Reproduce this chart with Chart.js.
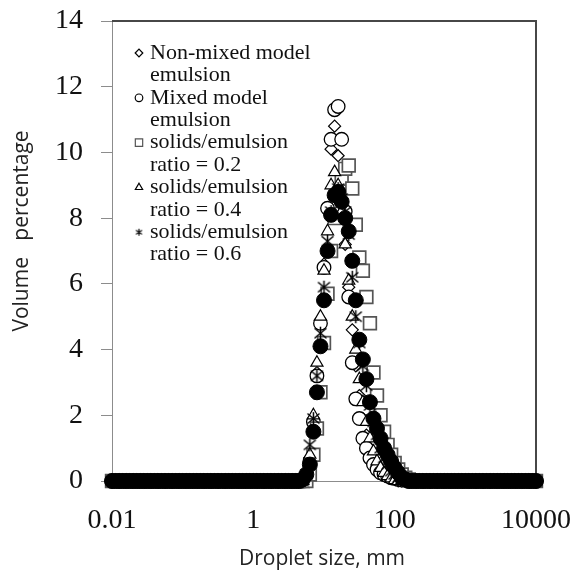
<!DOCTYPE html>
<html>
<head>
<meta charset="utf-8">
<script src="https://cdn.jsdelivr.net/npm/chart.js@4.4.1/dist/chart.umd.min.js"></script>
<style>
  html, body { margin: 0; padding: 0; background: #fff; }
</style>
</head>
<body>
<canvas id="chart" width="576" height="575"></canvas>
<script>
// size bins (20 per decade, 0.01 .. 10000)
const decadeStarts = [0.01, 0.1, 1, 10, 100, 1000];
const binSteps = [1, 1.122, 1.259, 1.413, 1.585, 1.778, 1.995, 2.239, 2.512, 2.818,
                  3.162, 3.548, 3.981, 4.467, 5.012, 5.623, 6.310, 7.079, 7.943, 8.913];
const lastBin = 10000;

// volume % from bin 54 (~5.6) up to bin 85 (~178); all other bins read as 0
const firstFilledBin = 54;
const nonMixed = [0, 0.15, 0.7, 1.9, 3.3, 4.9, 6.6, 8.3, 10.1, 10.8, 9.9, 8.6, 7.2, 5.9, 4.6, 3.5,
                  2.6, 1.9, 1.4, 1.0, 0.7, 0.5, 0.35, 0.25, 0.15, 0.1, 0.05, 0, 0, 0, 0, 0];
const mixed    = [0, 0.1, 0.6, 1.8, 3.2, 4.8, 6.5, 8.3, 10.4, 11.3, 11.4, 10.4, 8.2, 5.6, 3.6, 2.5,
                  1.9, 1.3, 1.0, 0.7, 0.5, 0.35, 0.25, 0.2, 0.15, 0.1, 0.08, 0.05, 0.03, 0.02, 0, 0];
const ratio02  = [0, 0, 0.2, 0.8, 1.6, 2.7, 4.2, 5.7, 7.0, 8.0, 8.7, 9.2, 9.5, 9.6, 8.9, 7.8,
                  6.8, 6.4, 5.6, 4.8, 3.3, 2.6, 2.0, 1.5, 1.1, 0.8, 0.55, 0.35, 0.2, 0.1, 0.05, 0];
const ratio04  = [0, 0.2, 0.8, 2.0, 3.6, 5.0, 6.4, 7.6, 9.0, 9.4, 9.0, 8.2, 7.2, 6.1, 5.0, 4.0,
                  3.1, 2.4, 1.8, 1.3, 0.9, 0.6, 0.4, 0.25, 0.15, 0.08, 0.03, 0, 0, 0, 0, 0];
const ratio06  = [0, 0.2, 1.1, 1.9, 3.2, 4.5, 5.9, 7.3, 8.2, 8.7, 8.9, 8.6, 8.2, 7.5, 6.2, 5.0,
                  4.2, 3.5, 2.9, 2.3, 1.8, 1.4, 1.0, 0.7, 0.5, 0.3, 0.2, 0.1, 0.05, 0, 0, 0];
const unlabeled = [0.05, 0.2, 0.5, 1.5, 2.7, 4.1, 5.5, 7.0, 8.1, 8.7, 8.8, 8.5, 8.0, 7.6, 6.7, 5.5,
                  4.3, 3.7, 3.1, 2.4, 1.9, 1.6, 1.3, 1.0, 0.8, 0.6, 0.4, 0.25, 0.1, 0.05, 0, 0];

const legendLines = [
  ['Non-mixed model', 'emulsion'],
  ['Mixed model', 'emulsion'],
  ['solids/emulsion', 'ratio = 0.2'],
  ['solids/emulsion', 'ratio = 0.4'],
  ['solids/emulsion', 'ratio = 0.6']
];
const xTickValues = [0.01, 1, 100, 10000];
const xTitle = 'Droplet size, mm';
const yTitle = 'Volume   percentage';

const sizes = [];
decadeStarts.forEach(d => binSteps.forEach(s => sizes.push(+(d * s).toPrecision(4))));
sizes.push(lastBin);

function toPoints(vals) {
  return sizes.map((x, i) => {
    const k = i - firstFilledBin;
    return { x: x, y: (k >= 0 && k < vals.length) ? vals[k] : 0 };
  });
}

function starMark(size, lw) {
  const c = document.createElement('canvas');
  c.width = size; c.height = size;
  const g = c.getContext('2d');
  g.strokeStyle = '#000'; g.lineWidth = lw;
  const m = size / 2;
  g.beginPath();
  g.moveTo(m, 1); g.lineTo(m, size - 1);
  g.moveTo(1.5, 2.5); g.lineTo(size - 1.5, size - 2.5);
  g.moveTo(size - 1.5, 2.5); g.lineTo(1.5, size - 2.5);
  g.stroke();
  return c;
}
const bigStar = starMark(15, 1.5);
const smallStar = starMark(9, 1.1);

const styles = [
  { style: 'rectRot',  r: 6,   fill: '#fff', line: '#000', w: 1.2, lr: 3.8 },
  { style: 'circle',   r: 6.8, fill: '#fff', line: '#000', w: 1.3, lr: 3.8 },
  { style: 'rect',     r: 9,   fill: '#fff', line: '#555', w: 1.7, lr: 5.2 },
  { style: 'triangle', r: 7,   fill: '#fff', line: '#000', w: 1.2, lr: 4.2 },
  { style: bigStar,    r: 7.5, fill: '#000', line: '#000', w: 1,   lr: 4, legendStyle: smallStar },
  { style: 'circle',   r: 7.5, fill: '#000', line: '#000', w: 1 }
];
const seriesValues = [nonMixed, mixed, ratio02, ratio04, ratio06, unlabeled];

const datasets = seriesValues.map((vals, k) => ({
  label: k < legendLines.length ? legendLines[k].join(' ') : 'series ' + (k + 1),
  data: toPoints(vals),
  showLine: false,
  pointStyle: styles[k].style,
  pointRadius: styles[k].r,
  pointBackgroundColor: styles[k].fill,
  pointBorderColor: styles[k].line,
  pointBorderWidth: styles[k].w,
  order: seriesValues.length - k,
  clip: false
}));

const decorPlugin = {
  id: 'decor',
  beforeDatasetsDraw(chart) {
    const ctx = chart.ctx, a = chart.chartArea;
    ctx.save();
    ctx.strokeStyle = '#474747';
    ctx.lineWidth = 2;
    ctx.beginPath();
    ctx.moveTo(a.left, a.top);
    ctx.lineTo(a.right, a.top);
    ctx.lineTo(a.right, a.bottom);
    ctx.stroke();
    ctx.restore();
  },
  afterDraw(chart) {
    const ctx = chart.ctx;
    ctx.save();
    // legend inside the plot
    ctx.font = '22px "Liberation Serif"';
    ctx.textBaseline = 'middle';
    let y = 53;
    legendLines.forEach((lines, k) => {
      const s = styles[k];
      ctx.fillStyle = '#fff';
      ctx.strokeStyle = s.line;
      ctx.lineWidth = 1.2;
      Chart.helpers.drawPoint(ctx, {
        pointStyle: s.legendStyle || s.style, radius: s.lr, rotation: 0, borderWidth: 1.2
      }, 139, y);
      ctx.fillStyle = '#111';
      lines.forEach(t => { ctx.fillText(t, 150, y); y += 22.4; });
    });
    // axis titles
    ctx.font = '21px "Open Sans"';
    ctx.fillStyle = '#222';
    ctx.textAlign = 'center';
    ctx.fillText(xTitle, 322, 559);
    ctx.translate(22, 231);
    ctx.rotate(-Math.PI / 2);
    ctx.fillText(yTitle, 0, 0);
    ctx.restore();
  }
};

new Chart(document.getElementById('chart'), {
  type: 'scatter',
  data: { datasets: datasets },
  options: {
    responsive: false,
    animation: false,
    events: [],
    layout: { padding: { top: 21, right: 40, left: 0, bottom: 0 } },
    plugins: { legend: { display: false }, tooltip: { enabled: false } },
    scales: {
      x: {
        type: 'logarithmic',
        min: 0.01, max: 10000,
        afterBuildTicks: s => { s.ticks = xTickValues.map(v => ({ value: v })); },
        afterFit: s => { s.height = 94; s.paddingLeft = 0; s.paddingRight = 0; },
        grid: { display: false, drawTicks: false },
        border: { color: '#8c8c8c', width: 1 },
        ticks: {
          autoSkip: false, maxRotation: 0, padding: 23, color: '#111',
          font: { family: '"Liberation Serif"', size: 28 },
          callback: v => String(v)
        }
      },
      y: {
        min: 0, max: 14,
        afterFit: s => { s.width = 112; s.paddingTop = 0; s.paddingBottom = 0; },
        grid: { drawOnChartArea: false, tickLength: 11, color: '#8c8c8c' },
        border: { color: '#8c8c8c', width: 1 },
        ticks: {
          stepSize: 2, padding: 18, color: '#111',
          font: { family: '"Liberation Serif"', size: 28 }
        }
      }
    }
  },
  plugins: [decorPlugin]
});
</script>
</body>
</html>
